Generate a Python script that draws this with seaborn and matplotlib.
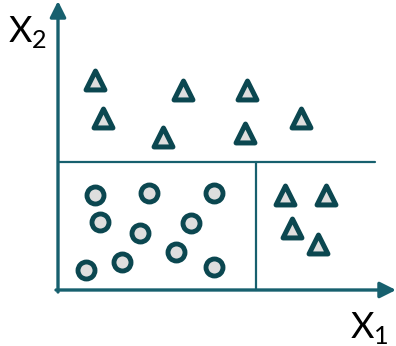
import matplotlib.pyplot as plt
import seaborn as sns
import pandas as pd

# point positions (x1, x2), origin at the axes corner
tri_x = [37, 45, 125, 105, 189, 187, 243, 227, 268, 234, 260]
tri_y = [210, 172, 200, 153, 200, 157, 172, 95, 95, 62, 46]
circ_x = [37, 91, 156, 42, 82, 133, 118, 64, 28, 156]
circ_y = [95, 97, 97, 68, 57, 67, 38, 28, 20, 23]

# split lines of the tree
split_x2 = 128
split_x1 = 198

tri = pd.DataFrame({"x1": tri_x, "x2": tri_y})
circ = pd.DataFrame({"x1": circ_x, "x2": circ_y})

axis_col = "#17606e"
edge_col = "#0b4750"
fill_col = "#dedede"

sns.set_style("white")
fig = plt.figure(figsize=(3.96, 3.46), dpi=100)
ax = fig.add_axes([0, 0, 1, 1])
ax.set_xlim(-58, 338)
ax.set_ylim(-56, 290)
ax.axis("off")

# axes with arrows
ax.annotate("", xy=(338, 0), xytext=(-2, 0),
            arrowprops=dict(arrowstyle="-|>", lw=2.4, color=axis_col, mutation_scale=24, shrinkA=0, shrinkB=0))
ax.annotate("", xy=(0, 289), xytext=(0, -2),
            arrowprops=dict(arrowstyle="-|>", lw=2.4, color=axis_col, mutation_scale=24, shrinkA=0, shrinkB=0))

# split lines
ax.plot([0, 317], [split_x2, split_x2], color=axis_col, lw=1.6)
ax.plot([split_x1, split_x1], [0, split_x2], color=axis_col, lw=1.6)

sns.scatterplot(data=tri, x="x1", y="x2", marker="^", s=185,
                color=fill_col, edgecolor=edge_col, linewidth=3.6,
                legend=False, ax=ax, zorder=3)
sns.scatterplot(data=circ, x="x1", y="x2", marker="o", s=150,
                color=fill_col, edgecolor=edge_col, linewidth=3.5,
                legend=False, ax=ax, zorder=3)
for coll in ax.collections:
    coll.set_joinstyle("round")

ax.set_xlim(-58, 338)
ax.set_ylim(-56, 290)
ax.set_xlabel("")
ax.set_ylabel("")

ax.text(-50, 248, r"X$_\mathregular{2}$", fontsize=26, family="Lato", color="black")
ax.text(292, -48, r"X$_\mathregular{1}$", fontsize=26, family="Lato", color="black")

fig.savefig("out.png", dpi=100)
